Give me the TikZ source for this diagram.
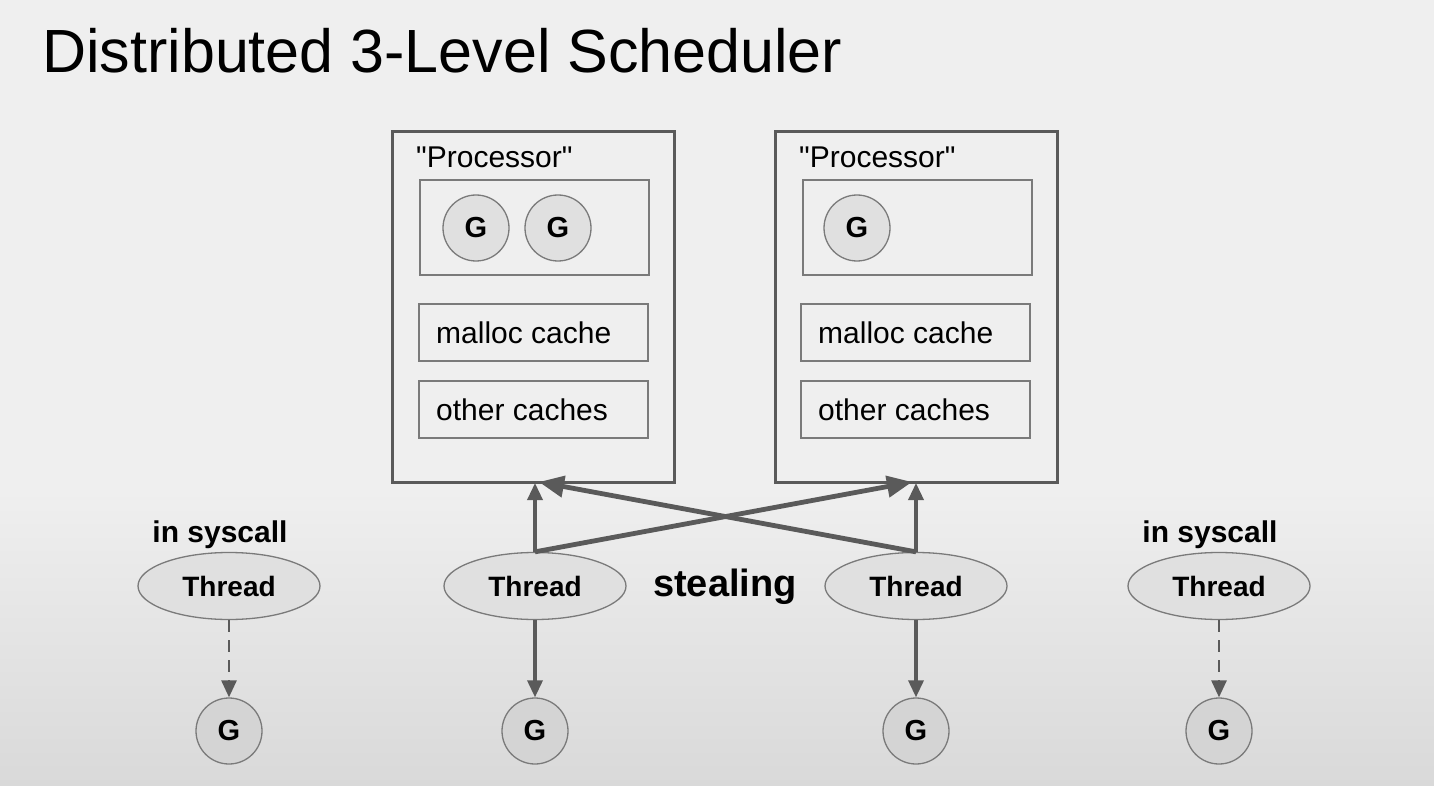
\documentclass[tikz,border=0pt]{standalone}
\usepackage{fontspec}
\setmainfont{Liberation Sans}
\newfontfamily\qfont{Liberation Sans}
\usetikzlibrary{arrows.meta,shapes.geometric}
\definecolor{bgtop}{HTML}{EFEFEF}
\definecolor{bgbot}{HTML}{D9D9D9}
\definecolor{edge}{HTML}{5A5A5A}
\definecolor{thin}{HTML}{7A7A7A}
\definecolor{gfill}{HTML}{E0E0E0}
\definecolor{gfillb}{HTML}{D4D4D4}
\begin{document}
\begin{tikzpicture}[x=1pt,y=-1pt,
  procbox/.style={draw=edge,line width=3pt,minimum width=282pt,minimum height=350pt,inner sep=0pt},
  innerbox/.style={draw=thin,line width=1.6pt,minimum width=229pt,inner sep=0pt},
  gnode/.style={circle,draw=thin,line width=1.3pt,fill=gfill,minimum size=66pt,inner sep=0pt,font=\fontsize{29}{32}\selectfont\bfseries},
  gbot/.style={gnode,fill=gfillb},
  thread/.style={ellipse,draw=thin,line width=1.3pt,fill=gfill,minimum width=182pt,minimum height=67pt,inner sep=0pt,font=\fontsize{28}{32}\selectfont\bfseries},
  boxtxt/.style={font=\fontsize{30}{34}\selectfont,inner sep=0pt,anchor=west},
  lbl/.style={font=\fontsize{30}{33}\selectfont\bfseries,inner sep=0pt},
  arr/.style={draw=edge,line width=3.4pt,-{Triangle[length=17pt,width=15pt]}},
  steal/.style={draw=edge,line width=4.8pt,-{Triangle[length=25pt,width=21pt]}},
  dasharr/.style={draw=edge,line width=2.8pt,dash pattern=on 12pt off 8pt,-{Triangle[length=17pt,width=15pt]}}
]
\useasboundingbox (0,0) rectangle (1434,786);
\fill[bgtop] (0,0) rectangle (1434,786);
\shade[top color=bgtop,bottom color=bgbot] (0,490) rectangle (1434,786);

% title
\node[anchor=base west,inner sep=0pt,font=\fontsize{61}{66}\selectfont] (title) at (42,73) {Distributed 3-Level Scheduler};

% processor 1
\node[procbox] (p1) at (533,307) {};
\node[boxtxt] (p1lbl) at (416,157) {\qfont "Processor"};
\node[innerbox,minimum height=95pt] (q1) at (534.5,227.5) {};
\node[gnode] (q1g1) at (476,228) {G};
\node[gnode] (q1g2) at (558,228) {G};
\node[innerbox,minimum height=57pt] (m1) at (533.5,332.5) {};
\node[boxtxt] (m1t) at (436,333) {malloc cache};
\node[innerbox,minimum height=57pt] (o1) at (533.5,409.5) {};
\node[boxtxt] (o1t) at (436,410) {other caches};

% processor 2
\node[procbox] (p2) at (916.5,307) {};
\node[boxtxt] (p2lbl) at (799,157) {\qfont "Processor"};
\node[innerbox,minimum height=95pt] (q2) at (917.5,227.5) {};
\node[gnode] (q2g1) at (857,228) {G};
\node[innerbox,minimum height=57pt] (m2) at (915.5,332.5) {};
\node[boxtxt] (m2t) at (818,333) {malloc cache};
\node[innerbox,minimum height=57pt] (o2) at (915.5,409.5) {};
\node[boxtxt] (o2t) at (818,410) {other caches};

% threads
\node[thread] (t0) at (229,586) {Thread};
\node[thread] (t1) at (535,586) {Thread};
\node[thread] (t2) at (916,586) {Thread};
\node[thread] (t3) at (1219,586) {Thread};

\node[lbl] (sc0) at (220,535) {in syscall};
\node[lbl] (sc3) at (1210,535) {in syscall};
\node[font=\fontsize{38}{42}\selectfont\bfseries,inner sep=0pt] (st) at (725,587) {stealing};

% bottom Gs
\node[gbot] (g0) at (229,731) {G};
\node[gbot] (g1) at (535,731) {G};
\node[gbot] (g2) at (916,731) {G};
\node[gbot] (g3) at (1219,731) {G};

% connectors
\coordinate (p1in) at (535,483);
\coordinate (p2in) at (916,483);
\coordinate (p1x) at (539,482);
\coordinate (p2x) at (912,482);
\draw[arr] (t1.north) -- (p1in);
\draw[arr] (t2.north) -- (p2in);
\draw[steal] (t1.north) -- (p2x);
\draw[steal] (t2.north) -- (p1x);

\draw[arr] (t1.south) -- (g1.north);
\draw[arr] (t2.south) -- (g2.north);
\draw[dasharr] (t0.south) -- (g0.north);
\draw[dasharr] (t3.south) -- (g3.north);
\end{tikzpicture}
\end{document}
